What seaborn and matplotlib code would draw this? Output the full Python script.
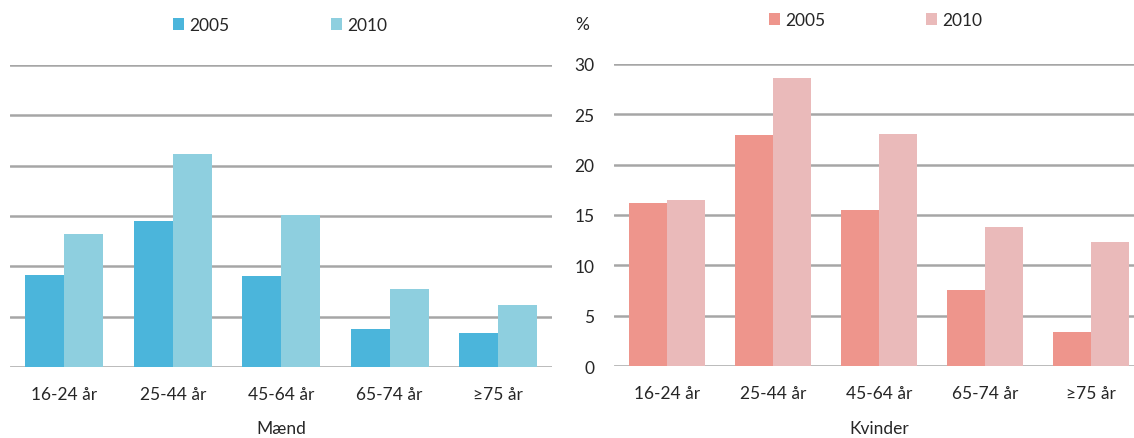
import matplotlib
matplotlib.use("Agg")
import matplotlib.pyplot as plt
import seaborn as sns
import pandas as pd

# data
groups = ["16-24 år", "25-44 år", "45-64 år", "65-74 år", "≥75 år"]
years = ["2005", "2010"]
maend_2005 = [9.1, 14.5, 9.0, 3.8, 3.4]
maend_2010 = [13.2, 21.1, 15.1, 7.7, 6.1]
kvinder_2005 = [16.2, 22.9, 15.5, 7.5, 3.4]
kvinder_2010 = [16.5, 28.6, 23.0, 13.8, 12.3]

blue = ["#4BB5DB", "#8ECFDF"]
pink = ["#EE958C", "#EABABA"]
grid_col = "#A6A6A6"

sns.set_style("white")
plt.rcParams["font.family"] = ["Lato", "DejaVu Sans"]
plt.rcParams["text.color"] = "#262626"
plt.rcParams["xtick.color"] = "#262626"
plt.rcParams["ytick.color"] = "#262626"


def long_df(v05, v10):
    return pd.DataFrame({
        "gruppe": groups * 2,
        "aar": [years[0]] * 5 + [years[1]] * 5,
        "pct": v05 + v10,
    })


fig = plt.figure(figsize=(11.34, 4.39), dpi=100)
ax1 = fig.add_axes([0.009, 0.162, 0.478, 0.688])
# right panel is cropped at the image edge in the original
ax2 = fig.add_axes([0.5414, 0.164, 0.4674, 0.688])

panels = [
    (ax1, long_df(maend_2005, maend_2010), blue, "Mænd", (0.247, 0.941)),
    (ax2, long_df(kvinder_2005, kvinder_2010), pink, "Kvinder", (0.772, 0.952)),
]

for ax, df, pal, label, leg_pos in panels:
    sns.barplot(data=df, x="gruppe", y="pct", hue="aar", palette=pal,
                width=0.72, gap=0, ax=ax, saturation=1, errorbar=None,
                linewidth=0)
    ax.set_ylim(0, 30)
    ax.set_yticks(range(0, 31, 5))
    ax.set_axisbelow(True)
    ax.yaxis.grid(True, color=grid_col, linewidth=1.8)
    for s in ax.spines.values():
        s.set_visible(False)
    ax.tick_params(axis="both", length=0, labelsize=12.5)
    ax.tick_params(axis="x", pad=14)
    ax.set_xlabel(label, fontsize=12.5, labelpad=13)
    ax.set_ylabel("")
    h, l = ax.get_legend_handles_labels()
    ax.legend_.remove()
    fig.legend(h, l, loc="center", bbox_to_anchor=leg_pos, ncol=2,
               frameon=False, fontsize=12.5, handlelength=0.65, handleheight=0.65,
               handletextpad=0.3, columnspacing=5.8)

ax1.set_yticklabels([])
ax2.tick_params(axis="y", pad=14)
fig.text(0.507, 0.943, "%", fontsize=12.5, ha="left", va="center")

fig.savefig("out.png", dpi=100)
